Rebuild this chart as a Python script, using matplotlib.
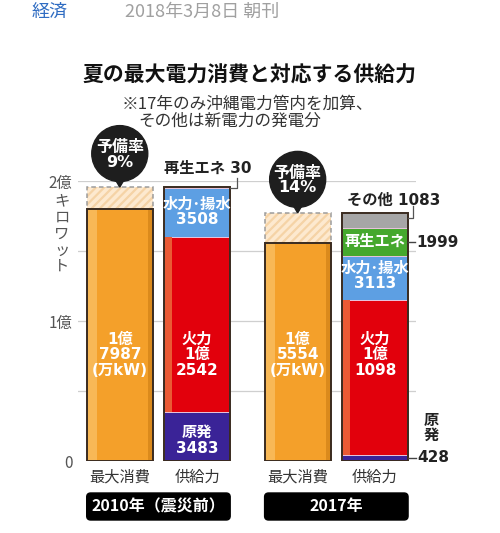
import matplotlib
matplotlib.use("Agg")
import matplotlib.pyplot as plt
from matplotlib.patches import Circle, Polygon, FancyBboxPatch

plt.rcParams['font.family'] = ['Noto Sans CJK JP', 'DejaVu Sans']
plt.rcParams['hatch.linewidth'] = 1.6

# ---------------- data (万kW) ----------------
years = ['2010年（震災前）', '2017年']
bar_names = ['最大消費', '供給力']
peak = [17987, 15554]
sources = ['原発', '火力', '水力･揚水', '再生エネ', 'その他']
supply_2010 = [3483, 12542, 3508, 30, 0]
supply_2017 = [428, 11098, 3113, 1999, 1083]
reserve_rate = [9, 14]
ytick_vals = [0, 10000, 20000]
ytick_labels = ['0', '1億', '2億']
grid_vals = [5000, 10000, 15000, 20000]

supplies = [supply_2010, supply_2017]

# ---------------- styles ----------------
src_colors = ['#3a2397', '#e2000c', '#5d9fe3', '#45a82d', '#a6a6a6']
src_light = ['#3a2397', '#ea5a34', '#5d9fe3', '#45a82d', '#a6a6a6']
orange = '#f4a02a'
orange_light = '#f8b856'
edge = '#3a2b1f'
txt_family = ['DejaVu Sans', 'Noto Sans CJK JP']

peak_x = [0, 2.3]
supply_x = [1, 3.3]
W = 0.855

fig = plt.figure(figsize=(5.0, 5.33), dpi=100)
fig.patch.set_facecolor('white')
ax = fig.add_axes([78 / 500, 1 - 461 / 533, 338 / 500, 280 / 533])
ax.set_xlim(-0.54, 3.83)
ax.set_ylim(0, 20000)
for s in ax.spines.values():
    s.set_visible(False)
ax.set_xticks([])
ax.set_yticks(ytick_vals)
ax.set_yticklabels(ytick_labels, fontsize=11, color='#555555')
ax.tick_params(axis='y', length=0, pad=4)
for g in grid_vals:
    ax.axhline(g, color='#cfcfcf', lw=0.9, zorder=0)

XU = 338 / 4.37          # px per x-unit
YU = 280 / 20000         # px per y-unit
def px2x(p):
    return p / XU
def px2y(p):
    return p / YU

def man(v):
    return f"{v // 10000}億\n{v % 10000}" if v >= 10000 else str(v)

lab_kw = dict(ha='center', va='center', color='white', fontsize=11,
              fontweight='bold', family=txt_family, linespacing=1.05, zorder=6)

totals = []
for i in range(2):
    # peak consumption bar
    px = peak_x[i]
    ax.bar(px, peak[i], W, color=orange, zorder=2)
    ax.bar(px - W / 2, peak[i], px2x(10), align='edge', color=orange_light, zorder=2.5)
    ax.bar(px + W / 2 - px2x(5), peak[i], px2x(5), align='edge', color='#db8a1c', zorder=2.5)
    ax.bar(px, peak[i], W, fill=False, edgecolor=edge, lw=1.4, zorder=4)
    ax.text(px, 7600, man(peak[i]) + "\n(万kW)", **lab_kw)

    # supply stacked bar
    sx = supply_x[i]
    bottom = 0
    for j, v in enumerate(supplies[i]):
        if v <= 0:
            continue
        ax.bar(sx, v, W, bottom=bottom, color=src_colors[j], edgecolor='#e8c4dc',
               lw=0.7, zorder=2)
        if j == 1:
            ax.bar(sx - W / 2, v, px2x(8), bottom=bottom, align='edge',
                   color=src_light[j], zorder=2.5)
        bottom += v
    total = bottom
    totals.append(total)
    ax.bar(sx, total, W, fill=False, edgecolor=edge, lw=1.4, zorder=4)

    # reserve (hatched, dashed) box
    ax.bar(px, total - peak[i], W, bottom=peak[i], color='#fde9cf', hatch='////',
           edgecolor='#f5d3a6', lw=0, zorder=2)
    ax.bar(px, total - peak[i], W, bottom=peak[i], fill=False, edgecolor='#9c9c9c',
           lw=1.1, ls=(0, (3, 2)), zorder=3)

# inside labels for supply bars
s0, s1 = supply_2010, supply_2017
ax.text(supply_x[0], 7600, "火力\n" + man(s0[1]), **lab_kw)
ax.text(supply_x[1], 7600, "火力\n" + man(s1[1]), **lab_kw)
ax.text(supply_x[0], s0[0] / 2 - px2y(4), f"{sources[0]}\n{s0[0]}", **lab_kw)
ax.text(supply_x[0], s0[0] + s0[1] + s0[2] / 2, f"{sources[2]}\n{s0[2]}", **lab_kw)
ax.text(supply_x[1], s1[0] + s1[1] + s1[2] / 2 + px2y(2), f"{sources[2]}\n{s1[2]}", **lab_kw)
ax.text(supply_x[1], s1[0] + s1[1] + s1[2] + s1[3] / 2 + px2y(1), sources[3], **lab_kw)

# ---------------- overlay in pixel coordinates ----------------
ov = fig.add_axes([0, 0, 1, 1])
ov.set_xlim(0, 500)
ov.set_ylim(0, 533)
ov.axis('off')
ov.patch.set_alpha(0)

def P(x, y):
    return ax.transData.transform((x, y))

ink = '#222222'
out_kw = dict(fontsize=11, fontweight='bold', color=ink, family=txt_family, va='center')

# 再生エネ 30 (2010)
xr, yt = P(supply_x[0] + W / 2, totals[0])
ov.plot([xr, xr + 7, xr + 7], [yt - 1, yt - 1, yt + 9], color='#555555', lw=0.9)
ov.text(xr - 22, yt + 19, f"{sources[3]} {s0[3]}", ha='center', **out_kw)

# その他 1083 (2017)
xr, yt = P(supply_x[1] + W / 2, totals[1])
ov.plot([xr, xr + 5, xr + 5], [yt - 5, yt - 5, yt + 7], color='#555555', lw=0.9)
ov.text(xr - 61, yt + 13, f"{sources[4]} {s1[4]}", ha='left', **out_kw)

# 再生エネ 1999 value
xr, ym = P(supply_x[1] + W / 2, s1[0] + s1[1] + s1[2] + s1[3] / 2)
ov.plot([xr, xr + 7], [ym, ym], color='#444444', lw=1.0)
ov.text(xr + 8, ym, str(s1[3]), ha='left', **out_kw)

# 原発 428
xr, ym = P(supply_x[1] + W / 2, s1[0] / 2)
ov.plot([xr, xr + 8], [ym, ym], color='#444444', lw=1.0)
ov.text(xr + 9, ym + 1, str(s1[0]), ha='left', **out_kw)
ov.text(xr + 23, ym + 30, "原\n発", ha='center', linespacing=0.95, **out_kw)

# reserve-rate bubbles
for i in range(2):
    cx, ty = P(peak_x[i], totals[i])
    cy = ty + 33.5
    ov.add_patch(Circle((cx, cy), 28, color='#1e1e1e', zorder=5))
    ov.add_patch(Polygon([(cx - 5, cy - 25), (cx + 5, cy - 25), (cx, ty)],
                         closed=True, color='#1e1e1e', zorder=5))
    ov.text(cx, cy - 1, f"予備率\n{reserve_rate[i]}%", ha='center', va='center',
            color='white', fontsize=11.5, fontweight='bold', linespacing=1.0,
            family=txt_family, zorder=6)

# category labels and year boxes
for i in range(2):
    for x, name in zip([peak_x[i], supply_x[i]], bar_names):
        bx, by = P(x, 0)
        ov.text(bx, by - 16, name, ha='center', va='center', fontsize=11, color='#333333')
    x0, y0 = P(peak_x[i] - W / 2, 0)
    x1, _ = P(supply_x[i] + W / 2, 0)
    ov.add_patch(FancyBboxPatch((x0, y0 - 59), x1 - x0, 27,
                                boxstyle='round,pad=0,rounding_size=4', color='black'))
    ov.text((x0 + x1) / 2, y0 - 45.5, years[i], ha='center', va='center', color='white',
            fontsize=11.5, fontweight='bold')

# y-axis unit (vertical)
ov.text(62, 533 - 234, "キ\nロ\nワ\nッ\nト", ha='center', va='center', fontsize=11,
        color='#555555', linespacing=0.95)

# titles
ov.text(249, 533 - 75, "夏の最大電力消費と対応する供給力", ha='center', va='center',
        fontsize=15, fontweight='bold', color='#111111')
ov.text(122, 533 - 104, "※17年のみ沖縄電力管内を加算、", ha='left', va='center',
        fontsize=12, color='#333333')
ov.text(138, 533 - 121, "その他は新電力の発電分", ha='left', va='center',
        fontsize=12, color='#333333')

# page header
ov.text(32, 533 - 12, "経済", ha='left', va='center', fontsize=13, color='#2f6cc2')
ov.text(125, 533 - 12, "2018年3月8日 朝刊", ha='left', va='center', fontsize=13,
        color='#a0a0a0')

fig.savefig('out.png', dpi=100, facecolor='white')
